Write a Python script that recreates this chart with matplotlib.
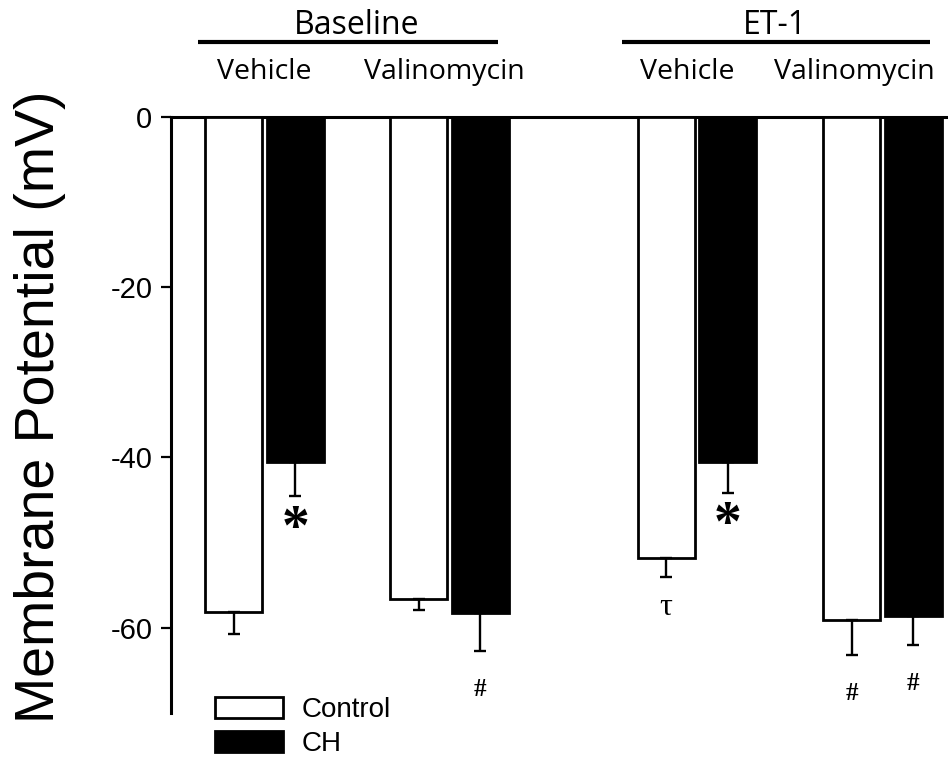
import numpy as np
import matplotlib
matplotlib.use("Agg")
import matplotlib.pyplot as plt
from matplotlib.transforms import blended_transform_factory

# ----------------------- data -----------------------
groups = ["Baseline", "ET-1"]
treatments = ["Vehicle", "Valinomycin", "Vehicle", "Valinomycin"]
control_mean = [-58.2, -56.6, -51.8, -59.1]
control_err = [2.5, 1.3, 2.3, 4.1]
ch_mean = [-40.5, -58.3, -40.5, -58.6]
ch_err = [4.1, 4.5, 3.7, 3.5]
series_labels = ["Control", "CH"]

# significance marks: (pair index, series, symbol)
marks = [(0, "ch", "*"), (1, "ch", "#"), (2, "ch", "*"),
         (2, "control", "\u03c4"), (3, "control", "#"), (3, "ch", "#")]

yticks = [0, -20, -40, -60]

# ----------------------- layout -----------------------
pair_x = np.array([0.0, 1.0, 2.338, 3.34])
label_x = [-0.003, 0.973, 2.284, 3.186]      # treatment label centres
group_spans = [(-0.359, 1.262), (1.932, 3.597)]
group_label_x = [0.497, 2.757]
bar_w = 0.308
offset = 0.167

W, H = 948, 757
fig = plt.figure(figsize=(W / 100, H / 100), dpi=100)
ax = fig.add_axes([171 / W, 1 - 712.7 / H, 1 - 171 / W, (712.7 - 116.7) / H])

ctrl_x = pair_x - offset
ch_x = pair_x + offset
ekw = dict(capsize=4.3, elinewidth=1.7, capthick=1.7, ecolor="black")
ax.bar(ctrl_x, control_mean, bar_w, color="white", edgecolor="black", lw=2,
       yerr=[control_err, np.zeros(4)], error_kw=ekw, label=series_labels[0],
       zorder=3)
ax.bar(ch_x, ch_mean, bar_w, color="black", edgecolor="black", lw=2,
       yerr=[ch_err, np.zeros(4)], error_kw=ekw, label=series_labels[1],
       zorder=3)

ax.set_xlim(-0.5054, 3.6946)
ax.set_ylim(-70, 0)
ax.set_yticks(yticks)
ax.set_yticklabels([str(t) for t in yticks], fontsize=21,
                   family="Liberation Sans")
ax.set_xticks([])
ax.tick_params(axis="y", direction="out", length=7.5, width=1.6, pad=6)
for s in ["right", "bottom"]:
    ax.spines[s].set_visible(False)
ax.spines["left"].set_linewidth(2.2)
ax.spines["top"].set_linewidth(2.2)

# significance symbols under error bars
for i, ser, sym in marks:
    if ser == "ch":
        x, v, e = ch_x[i], ch_mean[i], ch_err[i]
    else:
        x, v, e = ctrl_x[i], control_mean[i], control_err[i]
    if sym == "*":
        ax.text(x, v - e - 3.9, sym, ha="center", va="center", fontsize=40,
                family="Liberation Serif", weight="bold", clip_on=False)
    elif sym == "#":
        ax.text(x, v - e - 4.5, sym, ha="center", va="center", fontsize=18,
                family="Liberation Serif", weight="bold", clip_on=False)
    else:
        ax.text(x, v - e - 3.5, sym, ha="center", va="center", fontsize=23,
                family="Liberation Serif", clip_on=False)

# group headers above the plot
tr = blended_transform_factory(ax.transData, ax.transAxes)
for x, t in zip(label_x, treatments):
    ax.text(x, 1.0755, t, transform=tr, ha="center", va="center",
            family="Open Sans", fontsize=20.5)
for (x0, x1), gx, g in zip(group_spans, group_label_x, groups):
    ax.plot([x0, x1], [1.126, 1.126], transform=tr, color="black", lw=3,
            clip_on=False, solid_capstyle="butt")
    ax.text(gx, 1.153, g, transform=tr, ha="center", va="center",
            family="Open Sans", fontsize=23)

fig.text(40 / W, 1 - 407 / H, "Membrane Potential (mV)", rotation=90,
         ha="center", va="center", fontsize=40, family="Liberation Sans")

fig.legend(loc="upper left", bbox_to_anchor=(215 / W, 1 - 697 / H),
           frameon=False, prop=dict(family="Liberation Sans", size=20),
           handlelength=2.45, handleheight=0.78, handletextpad=0.68,
           labelspacing=0.28, borderpad=0, borderaxespad=0)

fig.savefig("out.png", dpi=100)
